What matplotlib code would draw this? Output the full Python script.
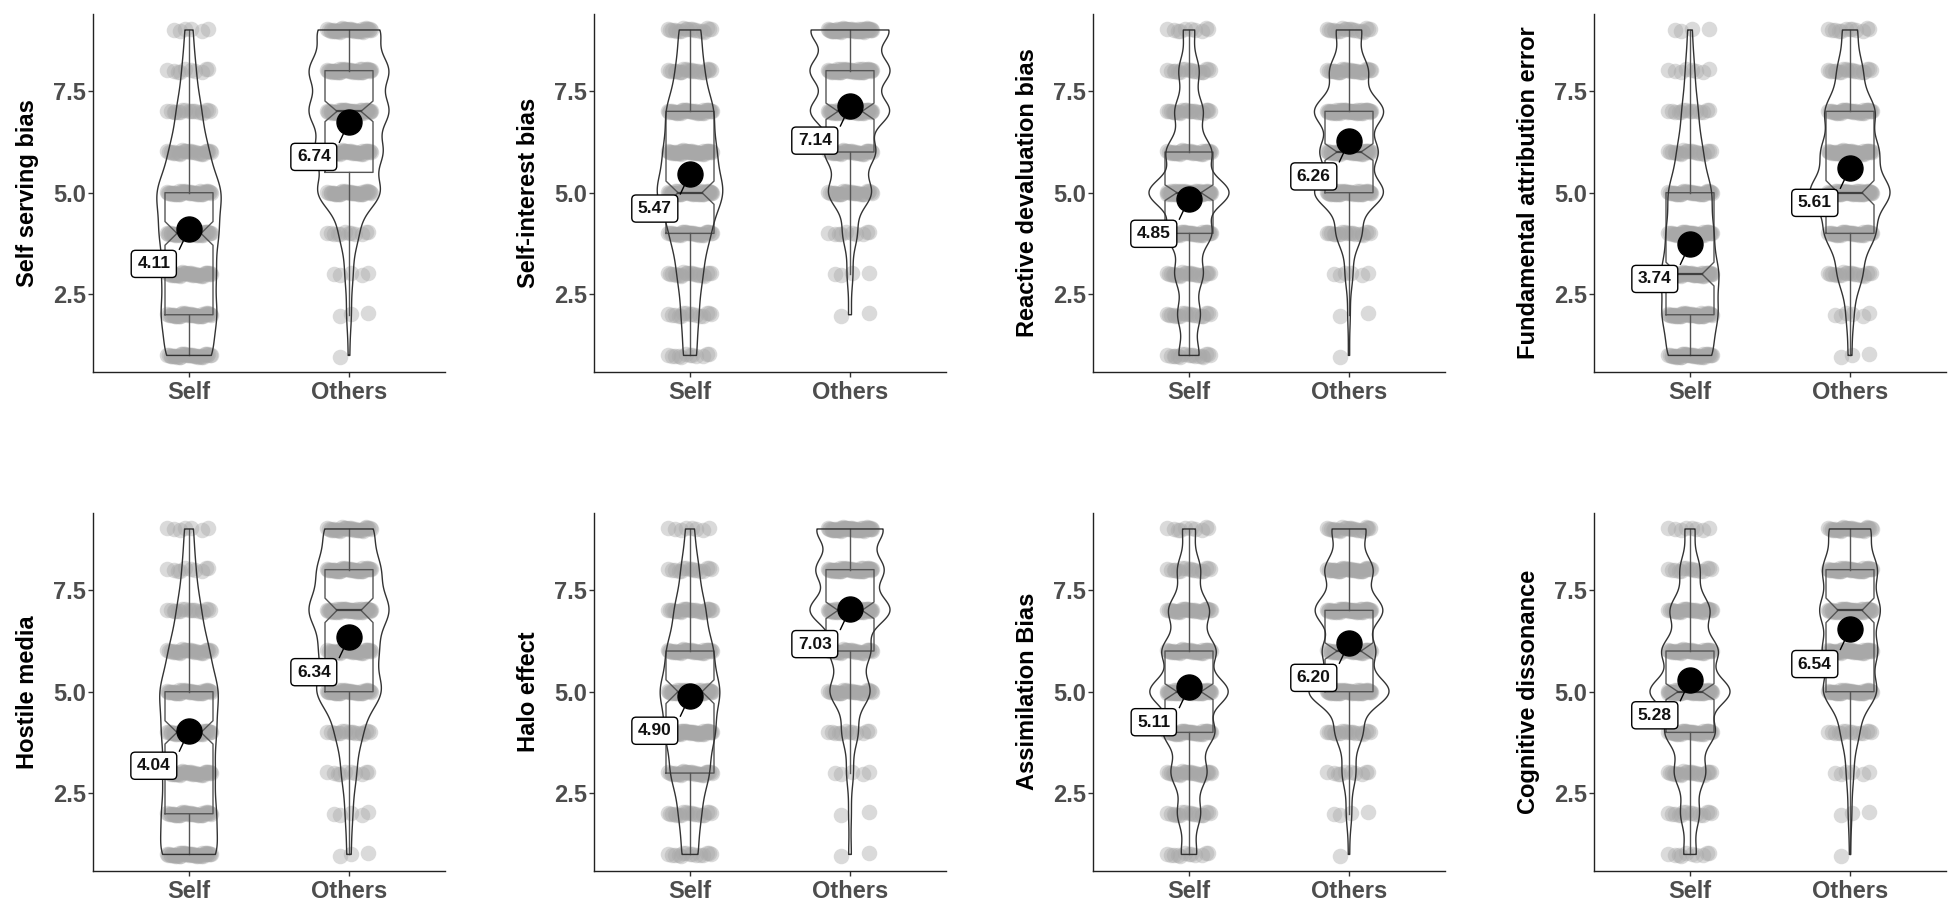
"""
Self vs Others ratings for eight cognitive biases:
violin + notched box + jittered responses + mean marker.
"""

import matplotlib
matplotlib.use('Agg')
import matplotlib.pyplot as plt
import numpy as np

plt.rcParams['font.family'] = ['Liberation Sans', 'DejaVu Sans']

levels = np.arange(1, 10)
groups = ['Self', 'Others']

titles = ['Self serving bias', 'Self-interest bias', 'Reactive devaluation bias',
          'Fundamental attribution error', 'Hostile media', 'Halo effect',
          'Assimilation Bias', 'Cognitive dissonance']

# number of answers at each scale point 1..9 (estimated from the plot)
self_counts = [
    [35, 40, 38, 42, 48, 28, 18, 10, 6],
    [12, 15, 22, 35, 60, 45, 42, 24, 20],
    [18, 20, 25, 40, 72, 40, 25, 18, 10],
    [40, 48, 50, 40, 38, 22, 14, 8, 4],
    [45, 40, 38, 40, 45, 30, 18, 10, 7],
    [15, 20, 35, 45, 55, 42, 28, 16, 8],
    [12, 18, 28, 40, 62, 42, 32, 18, 10],
    [10, 15, 25, 40, 65, 45, 32, 16, 8],
]
others_counts = [
    [1, 3, 5, 12, 40, 42, 50, 50, 40],
    [0, 2, 4, 10, 30, 35, 55, 55, 55],
    [1, 2, 6, 20, 55, 45, 55, 30, 20],
    [3, 6, 20, 40, 65, 45, 40, 20, 12],
    [3, 5, 10, 18, 45, 38, 55, 42, 34],
    [2, 2, 5, 12, 30, 30, 60, 50, 50],
    [1, 4, 10, 20, 60, 38, 50, 35, 25],
    [1, 3, 6, 15, 45, 45, 50, 45, 35],
]
self_means = [4.11, 5.47, 4.85, 3.74, 4.04, 4.90, 5.11, 5.28]
others_means = [6.74, 7.14, 6.26, 5.61, 6.34, 7.03, 6.20, 6.54]


def nrd0(v):
    sd = v.std(ddof=1)
    q1, q3 = np.percentile(v, [25, 75])
    lo = min(sd, (q3 - q1) / 1.34)
    return 0.9 * lo * len(v) ** -0.2


def density(v, adjust=0.85):
    bw = nrd0(v) * adjust
    grid = np.linspace(v.min(), v.max(), 512)
    z = (grid[:, None] - v[None, :]) / bw
    d = np.exp(-0.5 * z ** 2).sum(axis=1) / (len(v) * bw * np.sqrt(2 * np.pi))
    return grid, d


def draw_box(ax, x, v, hw=0.15):
    q1, med, q3 = np.percentile(v, [25, 50, 75])
    iqr = q3 - q1
    notch = 1.58 * iqr / np.sqrt(len(v))
    lo_w = v[v >= q1 - 1.5 * iqr].min()
    hi_w = v[v <= q3 + 1.5 * iqr].max()
    kw = dict(color='#555555', lw=1, zorder=2)
    ax.plot([x, x], [lo_w, q1], **kw)
    ax.plot([x, x], [q3, hi_w], **kw)
    px = [x - hw, x + hw, x + hw, x + hw / 2, x + hw, x + hw,
          x - hw, x - hw, x - hw / 2, x - hw, x - hw]
    py = [q1, q1, med - notch, med, med + notch, q3,
          q3, med + notch, med, med - notch, q1]
    ax.plot(px, py, **kw)
    ax.plot([x - hw / 2, x + hw / 2], [med, med], color='#404040', lw=1.6, zorder=2)


fig = plt.figure(figsize=(19.5, 9.13), dpi=100)
lefts = [93, 594, 1093, 1594]
tops = [13.7, 512.7]

for i, title in enumerate(titles):
    r, c = divmod(i, 4)
    ax = fig.add_axes([lefts[c] / 1950, 1 - (tops[r] + 358) / 913,
                       352 / 1950, 358 / 913])

    data = [np.repeat(levels, self_counts[i]).astype(float),
            np.repeat(levels, others_counts[i]).astype(float)]
    means = [self_means[i], others_means[i]]
    dens = [density(v) for v in data]
    dmax = max(d.max() for _, d in dens)

    for j, v in enumerate(data):
        x = j + 1

        # jittered responses
        for lev, cnt in zip(levels, [self_counts[i], others_counts[i]][j]):
            if cnt == 0:
                continue
            k = np.arange(cnt)
            xs = x + ((k * 0.618034 + 0.31) % 1 - 0.5) * 0.28
            ys = lev + ((k * 0.754878 + 0.17) % 1 - 0.5) * 0.08
            ax.scatter(xs, ys, s=125, color='#a8a8a8', alpha=0.42,
                       linewidths=0, zorder=1)

        draw_box(ax, x, v)
        grid, d = dens[j]
        w = d / dmax * 0.25
        ax.fill_betweenx(grid, x - w, x + w, facecolor='none',
                         edgecolor='#333333', lw=1, zorder=3)

        m = means[j]
        ax.plot([x - 0.06, x], [m - 0.5, m], color='black', lw=1, zorder=5)
        ax.plot(x, m, 'o', color='black', ms=18, zorder=6)
        ax.text(x - 0.22, m - 0.86, f'{m:.2f}', ha='center', va='center',
                fontsize=12.5, fontweight='bold', color='#111111', zorder=7,
                bbox=dict(boxstyle='round,pad=0.35,rounding_size=0.25',
                          fc='white', ec='black', lw=1))

    ax.set_xlim(0.4, 2.6)
    ax.set_ylim(0.6, 9.4)
    ax.set_xticks([1, 2])
    ax.set_xticklabels(groups)
    ax.set_yticks([2.5, 5.0, 7.5])
    ax.set_yticklabels(['2.5', '5.0', '7.5'])
    ax.tick_params(labelsize=17, labelcolor='#4d4d4d', length=3.5,
                   width=1, color='#333333')
    ax.tick_params(axis='y', pad=1.5)
    ax.tick_params(axis='x', pad=3)
    for lab in ax.get_xticklabels() + ax.get_yticklabels():
        lab.set_fontweight('bold')
    ax.set_ylabel(title, fontsize=17, fontweight='bold', labelpad=10)
    for s in ['top', 'right']:
        ax.spines[s].set_visible(False)
    for s in ['left', 'bottom']:
        ax.spines[s].set_linewidth(1)
        ax.spines[s].set_color('#222222')

fig.savefig('out.png', dpi=100)
plt.close(fig)
